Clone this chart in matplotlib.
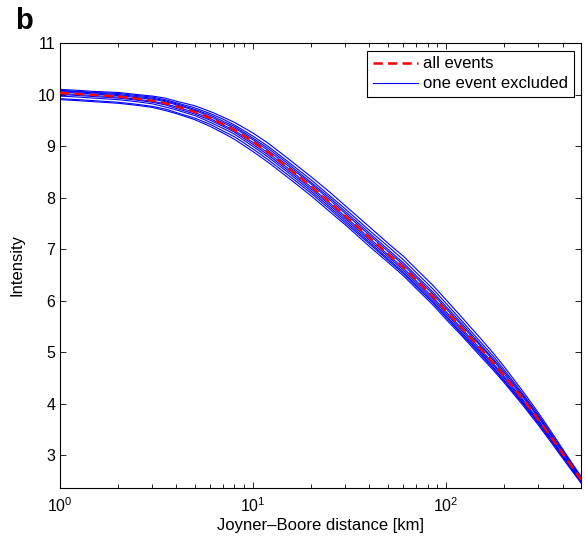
import matplotlib
matplotlib.use("Agg")
import matplotlib.pyplot as plt

plt.rcParams['font.family'] = ['Liberation Sans', 'DejaVu Sans']
plt.rcParams['mathtext.fontset'] = 'custom'
plt.rcParams['mathtext.rm'] = 'Liberation Sans'
plt.rcParams['mathtext.default'] = 'rm'

# distance points [km]
dist = [1, 1.25, 1.5, 2, 2.5, 3, 3.5, 4, 5, 6, 7, 8, 10, 12, 15, 20, 25, 30,
        40, 50, 60, 70, 85, 100, 120, 150, 175, 200, 250, 300, 350, 400, 450, 500]

# all events
all_events = [10.03, 10.01, 9.99, 9.96, 9.92, 9.88, 9.83, 9.77, 9.66, 9.54, 9.42, 9.31,
              9.08, 8.87, 8.59, 8.21, 7.90, 7.64, 7.22, 6.90, 6.64, 6.39, 6.08, 5.79,
              5.47, 5.07, 4.79, 4.53, 4.08, 3.69, 3.34, 3.03, 2.76, 2.52]

# one event excluded (one list per run)
excl_a = [10.10, 10.08, 10.06, 10.04, 10.00, 9.97, 9.93, 9.87, 9.78, 9.67, 9.56, 9.46,
          9.25, 9.05, 8.77, 8.40, 8.10, 7.84, 7.43, 7.11, 6.86, 6.61, 6.30, 6.01,
          5.68, 5.27, 4.98, 4.71, 4.23, 3.82, 3.45, 3.12, 2.83, 2.58]
excl_b = [10.08, 10.06, 10.04, 10.02, 9.98, 9.95, 9.90, 9.84, 9.74, 9.63, 9.52, 9.41,
          9.19, 8.99, 8.71, 8.34, 8.03, 7.78, 7.36, 7.05, 6.79, 6.54, 6.23, 5.94,
          5.61, 5.20, 4.92, 4.65, 4.18, 3.78, 3.41, 3.09, 2.81, 2.56]
excl_c = [10.07, 10.05, 10.03, 10.00, 9.96, 9.93, 9.88, 9.82, 9.71, 9.60, 9.48, 9.38,
          9.15, 8.95, 8.67, 8.29, 7.99, 7.73, 7.31, 6.99, 6.73, 6.48, 6.17, 5.88,
          5.56, 5.15, 4.87, 4.61, 4.15, 3.75, 3.39, 3.07, 2.80, 2.55]
excl_d = [10.05, 10.03, 10.01, 9.98, 9.94, 9.91, 9.86, 9.80, 9.69, 9.57, 9.45, 9.35,
          9.12, 8.91, 8.63, 8.26, 7.95, 7.69, 7.27, 6.95, 6.69, 6.44, 6.13, 5.84,
          5.52, 5.12, 4.84, 4.57, 4.12, 3.73, 3.37, 3.06, 2.78, 2.54]
excl_e = [10.02, 10.00, 9.98, 9.95, 9.91, 9.87, 9.82, 9.76, 9.65, 9.53, 9.41, 9.30,
          9.07, 8.86, 8.58, 8.20, 7.89, 7.63, 7.21, 6.89, 6.63, 6.38, 6.07, 5.78,
          5.46, 5.06, 4.78, 4.52, 4.07, 3.68, 3.33, 3.02, 2.75, 2.51]
excl_f = [10.00, 9.98, 9.96, 9.93, 9.89, 9.85, 9.80, 9.73, 9.62, 9.50, 9.38, 9.27,
          9.03, 8.82, 8.54, 8.16, 7.85, 7.59, 7.17, 6.85, 6.59, 6.34, 6.03, 5.74,
          5.42, 5.02, 4.75, 4.49, 4.04, 3.66, 3.31, 3.00, 2.74, 2.50]
excl_g = [9.97, 9.95, 9.93, 9.90, 9.86, 9.82, 9.76, 9.70, 9.59, 9.46, 9.34, 9.23,
          8.99, 8.78, 8.50, 8.12, 7.81, 7.55, 7.13, 6.81, 6.55, 6.30, 5.99, 5.70,
          5.38, 4.99, 4.71, 4.45, 4.01, 3.63, 3.29, 2.98, 2.72, 2.49]
excl_h = [9.92, 9.90, 9.88, 9.85, 9.81, 9.77, 9.72, 9.65, 9.54, 9.42, 9.29, 9.18,
          8.94, 8.73, 8.45, 8.08, 7.77, 7.51, 7.10, 6.78, 6.52, 6.27, 5.96, 5.67,
          5.35, 4.96, 4.68, 4.43, 3.99, 3.61, 3.27, 2.97, 2.70, 2.47]
excl_i = [9.90, 9.88, 9.86, 9.83, 9.79, 9.75, 9.69, 9.63, 9.51, 9.38, 9.25, 9.13,
          8.89, 8.68, 8.40, 8.03, 7.72, 7.47, 7.05, 6.74, 6.48, 6.23, 5.92, 5.63,
          5.32, 4.92, 4.65, 4.40, 3.96, 3.58, 3.24, 2.94, 2.68, 2.45]

excluded = [excl_a, excl_b, excl_c, excl_d, excl_e, excl_f, excl_g, excl_h, excl_i]

fig = plt.figure(figsize=(5.85, 5.41), dpi=100)
ax = fig.add_axes([0.1026, 0.098, 0.891, 0.8225])

for k, y in enumerate(excluded):
    ax.plot(dist, y, color=(0, 0, 1), lw=0.8,
            label='one event excluded' if k == 0 else None, zorder=2)
ax.plot(dist, all_events, color=(1, 0, 0), lw=1.8, ls=(0, (3.7, 2.1)),
        label='all events', zorder=3)

ax.set_xscale('log')
ax.set_xlim(1, 500)
ax.set_ylim(2.36, 11)
ax.set_yticks([3, 4, 5, 6, 7, 8, 9, 10, 11])

ax.tick_params(which='both', direction='in', top=True, right=True, labelsize=11.5)
ax.tick_params(which='major', length=4, width=0.6)
ax.tick_params(which='minor', length=3, width=0.6)
ax.tick_params(axis='x', which='major', pad=6)
for s in ax.spines.values():
    s.set_linewidth(0.8)

ax.set_xlabel('Joyner\u2013Boore distance [km]', fontsize=12, labelpad=2)
ax.set_ylabel('Intensity', fontsize=12, labelpad=9)

h, l = ax.get_legend_handles_labels()
leg = ax.legend(h[::-1], l[::-1], loc='upper right', fontsize=12,
                fancybox=False, framealpha=1, edgecolor='black',
                handlelength=2.7, handletextpad=0.3, borderpad=0.35,
                labelspacing=0.3, borderaxespad=0.45)
leg.get_frame().set_linewidth(0.8)

fig.text(0.025, 0.962, 'b', fontsize=21, fontweight='bold', va='center')

fig.savefig('out.png', dpi=100)
